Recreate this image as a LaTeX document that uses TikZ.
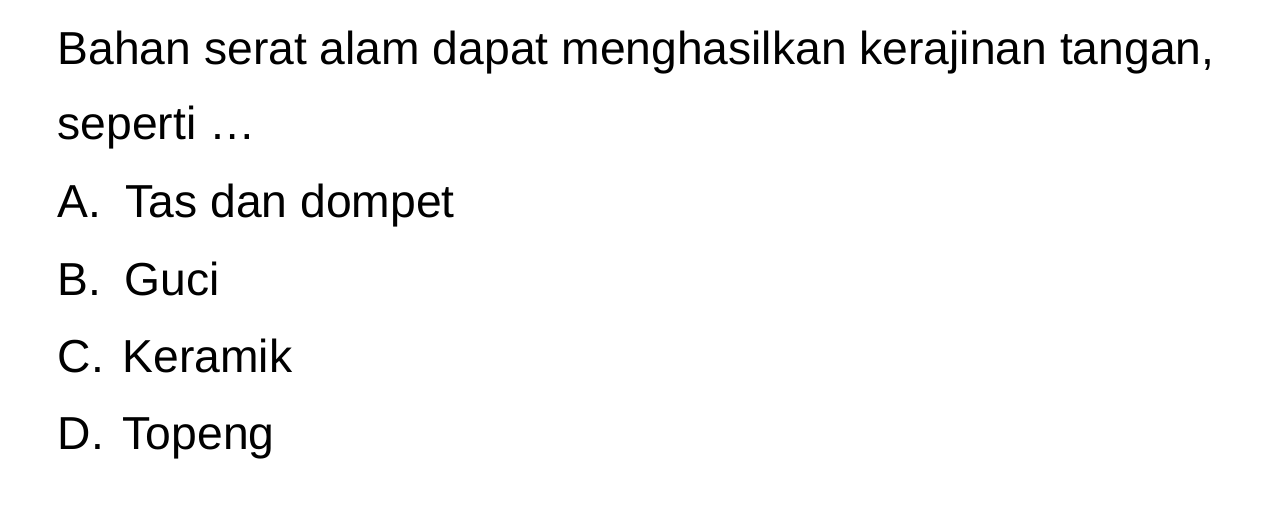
\documentclass[tikz,border=0pt]{standalone}
\usepackage{fontspec}
\setmainfont{Liberation Sans}
\usepackage{tikz}
\usetikzlibrary{positioning}

\begin{document}
\begin{tikzpicture}[x=0.01cm, y=-0.01cm,
	txt/.style={anchor=base west, inner sep=0pt, font=\fontsize{13.15}{15}\selectfont}]
	% page frame
	\useasboundingbox[fill=white] (0,0) rectangle (1277,506);
	
	% Question
	\node[txt] (q1) at (57, 64) {Bahan serat alam dapat menghasilkan kerajinan tangan,};
	\node[txt] (q2) at (57, 139) {seperti \dots};
	
	% Options
	\node[txt] (la) at (57, 217) {A.};
	\node[txt] (ta) at (125, 217) {Tas dan dompet};
	\node[txt] (lb) at (57, 295) {B.};
	\node[txt] (tb) at (124, 295) {Guci};
	\node[txt] (lc) at (57, 372) {C.};
	\node[txt] (tc) at (122, 372) {Keramik};
	\node[txt] (ld) at (57, 449) {D.};
	\node[txt] (td) at (122, 449) {Topeng};
\end{tikzpicture}
\end{document}
